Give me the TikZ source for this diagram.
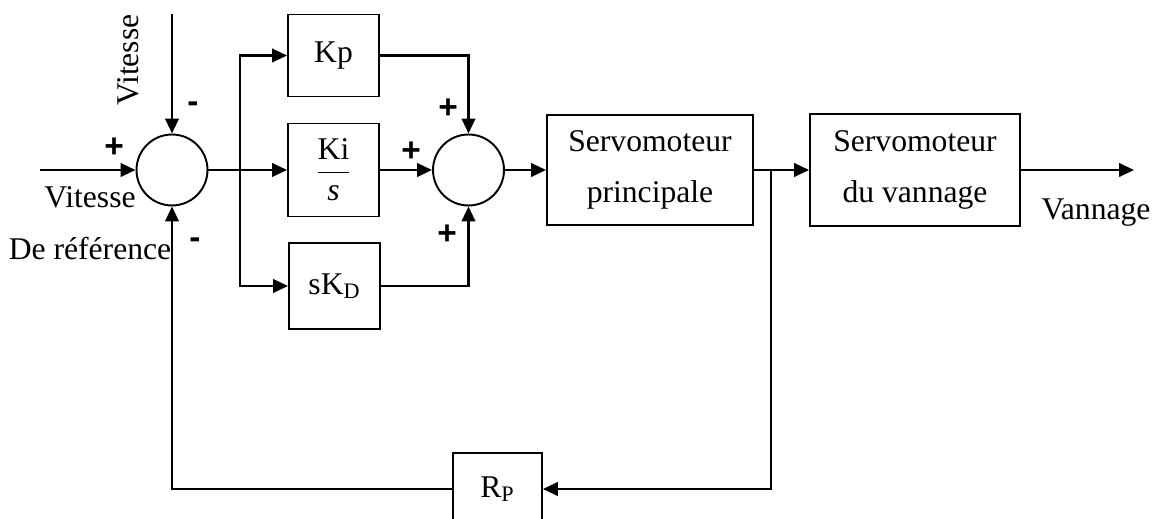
\documentclass[tikz,border=0pt]{standalone}
\usepackage{fontspec}
\setmainfont{Liberation Serif}
\newfontfamily\signfont{Liberation Sans}
\usetikzlibrary{arrows.meta}
\begin{document}
\begin{tikzpicture}[x=0.02cm,y=-0.02cm,
  every node/.style={font=\fontsize{18}{29}\selectfont, inner sep=0pt},
  blk/.style={draw, line width=1.1pt, minimum width=#1, align=center},
  sumc/.style={draw, circle, line width=1.1pt, minimum size=1.42cm},
  conn/.style={line width=1.4pt},
  arr/.style={conn, -{Triangle[length=0.3cm,width=0.27cm]}},
  sgn/.style={font=\signfont\bfseries\fontsize{19}{22}\selectfont}]
\useasboundingbox (0,0) rectangle (1153,519);
\clip (0,0) rectangle (1153,519);
% summing junctions
\node[sumc] (s1) at (172,170) {};
\node[sumc] (s2) at (468.5,170) {};
% blocks
\node[blk=1.82cm, minimum height=1.64cm] (kp) at (333.5,55.5) {Kp};
\node[blk=1.82cm, minimum height=1.86cm] (ki) at (333.5,170) {$\displaystyle\frac{\mbox{Ki}}{\mbox{\itshape s}}$};
\node[blk=1.82cm, minimum height=1.72cm] (kd) at (334.5,286) {sK\textsubscript{D}};
\node[blk=4.12cm, minimum height=2.2cm] (sp) at (650,170) {Servomoteur\\principale};
\node[blk=4.2cm, minimum height=2.24cm] (sv) at (915,170) {Servomoteur\\du vannage};
\node[blk=1.78cm, minimum height=1.44cm] (rp) at (497.5,489) {R\textsubscript{P}};
% coordinates
\coordinate (inL) at (40,170);
\coordinate (inT) at (172,14);
\coordinate (b1) at (240,170);
\coordinate (b2) at (771,170);
\coordinate (out) at (1134,170);
% connectors
\draw[arr] (inL) -- (s1.west);
\draw[arr] (inT) -- (s1.north);
\draw[conn] (s1.east) -- (b1);
\draw[arr] (b1) -- (ki.west);
\draw[arr] (b1) |- (kp.west);
\draw[arr] (b1) |- (kd.west);
\draw[arr] (kp.east) -| (s2.north);
\draw[arr] (ki.east) -- (s2.west);
\draw[arr] (kd.east) -| (s2.south);
\draw[arr] (s2.east) -- (sp.west);
\draw[arr] (sp.east) -- (sv.west);
\draw[arr] (sv.east) -- (out);
\draw[arr] (b2) |- (rp.east);
\draw[arr] (rp.west) -| (s1.south);
% labels
\node[rotate=90, anchor=base] (lv1) at (138,60) {Vitesse};
\node[anchor=base] (lv2) at (90,208) {Vitesse};
\node[anchor=base] (lv3) at (90,260) {De référence};
\node[anchor=base] (lout) at (1096,220) {Vannage};
% signs
\node[sgn] (p1) at (114,148) {+};
\node[sgn] (m1) at (193,107) {-};
\node[sgn] (m2) at (195,243) {-};
\node[sgn] (p2) at (448,109) {+};
\node[sgn] (p3) at (411,152) {+};
\node[sgn] (p4) at (447,235) {+};
\end{tikzpicture}
\end{document}
